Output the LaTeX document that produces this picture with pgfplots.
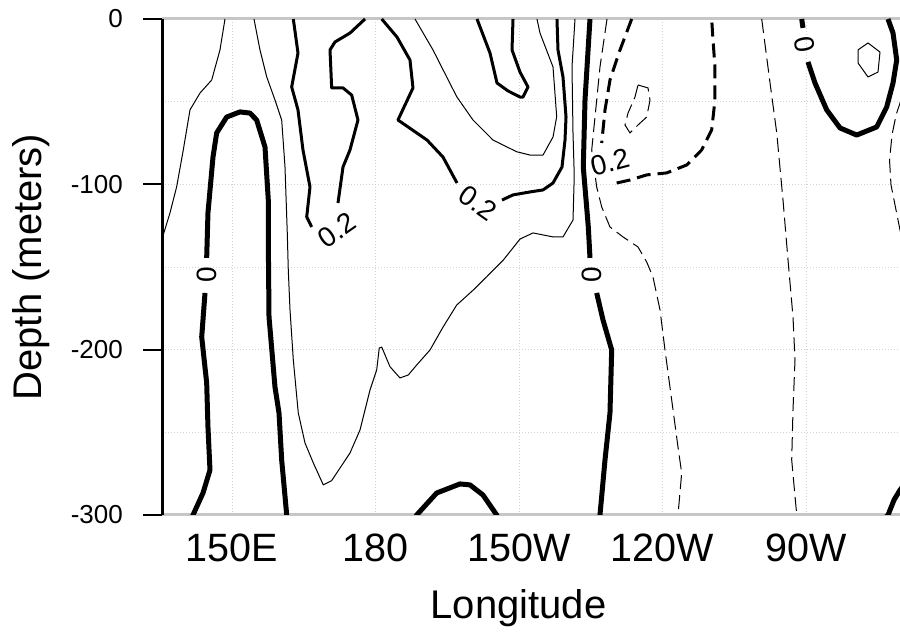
\documentclass[border=0pt]{standalone}
\usepackage{fontspec}
\setmainfont{Liberation Sans}
\usepackage{pgfplots}
\pgfplotsset{compat=1.18}
\begin{document}
\begin{tikzpicture}[
  czero/.style={black, line width=5bp, line join=round},
  cpos/.style={black, line width=3bp, line join=round},
  cthin/.style={black, line width=1bp, line join=round},
  cnthin/.style={black, line width=1bp, dash pattern=on 14bp off 6bp},
  cnmed/.style={black, line width=3bp, dash pattern=on 14bp off 7bp},
  clab/.style={font=\fontsize{28bp}{28bp}\selectfont, inner sep=0pt}]
\useasboundingbox (0,0) rectangle (900bp,633bp);
\begin{axis}[
  at={(162bp,118bp)}, anchor=south west,
  scale only axis, width=738bp, height=496bp,
  xmin=135.37, xmax=289.65, ymin=-300, ymax=0,
  axis x line*=box, axis y line*=left, separate axis lines,
  x axis line style={draw=gray!45, line width=3bp},
  y axis line style={draw=black, line width=3bp},
  xtick={150,180,210,240,270},
  xticklabels={150E,180,150W,120W,90W},
  ytick={0,-100,-200,-300},
  yticklabels={0,-100,-200,-300},
  minor ytick={-50,-150,-250},
  grid=both,
  grid style={gray!35, line width=0.8bp, dash pattern=on 1bp off 2bp},
  minor grid style={gray!35, line width=0.8bp, dash pattern=on 1bp off 2bp},
  tick align=outside,
  major tick length=19bp, minor tick length=0pt,
  xtick style={draw=none},
  ytick style={black, line width=2bp},
  xticklabel style={font=\fontsize{39.5bp}{40bp}\selectfont, inner sep=0pt, anchor=north},
  yticklabel style={font=\fontsize{26bp}{27bp}\selectfont, inner sep=0pt, anchor=east, xshift=-20bp},
  xlabel={Longitude}, ylabel={Depth (meters)},
  every axis x label/.style={at={(axis description cs:0.483,-0.2077)}, anchor=base, font=\fontsize{40bp}{40bp}\selectfont},
  every axis y label/.style={at={(axis description cs:-0.1775,0.5)}, rotate=90, anchor=center, font=\fontsize{40bp}{40bp}\selectfont},
  no markers,
]
% thin contours (positive, small)
\addplot[cthin] coordinates {(148.54,0) (147.49,-18.7) (145.76,-36.9) (143.31,-44.8) (141.22,-55.0) (139.82,-79.2) (138.44,-101.4) (137.04,-117.3) (135.51,-131.7) (134.53,-139.7)};
\addplot[cthin] coordinates {(154.60,0) (155.85,-18.7) (157.25,-34.9) (158.99,-49.0) (160.39,-61.1) (161.08,-89.3) (161.56,-129.4) (161.77,-151.8) (162.13,-176.0) (162.82,-206.2) (163.86,-238.3) (165.26,-256.4) (167.00,-268.5) (169.09,-281.8) (170.84,-279.2) (174.67,-262.5) (176.76,-248.6) (178.85,-224.4) (180.25,-212.3) (180.79,-199.0) (181.30,-198.4) (183.03,-210.3) (185.12,-217.1) (186.86,-215.3) (188.61,-209.3) (191.39,-200.2) (194.17,-186.1) (196.98,-173.0) (200.45,-163.9) (203.25,-155.9) (206.72,-145.8) (210.21,-133.1) (212.93,-129.4) (217.11,-131.8) (219.20,-131.8) (221.29,-121.6) (221.50,-100.4) (221.50,-89.5) (221.29,-68.9) (221.08,-29.0) (221.71,0)};
\addplot[cthin] coordinates {(188.26,0) (192.02,-18.7) (196.98,-47.0) (200.38,-61.1) (204.56,-73.2) (209.52,-80.3) (212.30,-82.3) (215.02,-82.3) (217.11,-71.4) (217.88,-59.1) (217.11,-29.0) (214.39,-8.5) (213.76,0)};
\addplot[cthin] coordinates {(282.96,-14.5) (285.47,-20.0) (285.05,-32.1) (282.96,-35.1) (280.87,-26.6) (280.87,-18.7) (282.96,-14.5)};
% 0.2 contours
\addplot[cpos] coordinates {(181.30,0) (184.49,-10.9) (187.21,-24.8) (187.84,-41.7) (184.70,-61.1) (190.77,-73.2) (194.11,-83.5) (197.04,-99.2)};
\addplot[cpos] coordinates {(206.45,-109.5) (208.75,-106.4) (212.30,-104.6) (215.02,-103.4) (217.11,-99.2) (218.99,-89.5) (219.62,-73.2) (219.83,-59.3) (219.20,-35.1) (218.15,-18.7) (217.94,0)};
\addplot[cpos] coordinates {(201.22,0) (203.94,-20.6) (205.40,-38.7) (207.70,-43.5) (210.21,-47.2) (210.83,-47.2) (211.88,-41.1) (210.21,-32.1) (208.54,-18.7) (208.75,0)};
\addplot[cpos] coordinates {(177.81,0) (174.67,-8.5) (171.53,-13.9) (170.49,-18.7) (170.84,-41.7) (173.21,-41.7) (175.02,-46.0) (176.34,-61.1) (174.67,-79.2) (173.21,-89.5) (172.16,-111.3)};
\addplot[cpos] coordinates {(166.66,-125.8) (165.62,-119.7) (166.31,-101.6) (164.84,-79.2) (163.80,-55.0) (162.48,-41.1) (163.80,-20.6) (162.82,0)};
% zero contours
\addplot[czero] coordinates {(161.44,-300) (160.39,-266.7) (159.83,-238.3) (158.99,-222.6) (157.74,-180.2) (157.63,-145.8) (157.59,-109.5) (156.90,-77.4) (155.16,-61.1) (153.76,-56.9) (151.67,-56.2) (148.89,-59.3) (146.80,-68.9) (146.03,-83.5) (144.98,-117.3) (144.71,-144.5)};
\addplot[czero] coordinates {(144.36,-165.7) (143.67,-192.3) (144.71,-220.1) (144.98,-246.8) (145.40,-272.8) (143.94,-286.7) (141.85,-300) (141.4,-303)};
\addplot[czero] coordinates {(188.2,-303) (188.61,-300) (192.79,-286.7) (197.67,-281.2) (199.76,-281.8) (202.47,-287.9) (205.34,-300) (205.8,-303)};
\addplot[czero] coordinates {(224.84,0) (223.80,-49.0) (223.44,-89.5) (224.49,-125.8) (224.84,-144.5)};
\addplot[czero] coordinates {(226.24,-165.7) (227.56,-182.0) (229.38,-200.2) (229.02,-238.3) (227.98,-266.7) (226.93,-300) (226.8,-303)};
\addplot[czero] coordinates {(269.10,0) (269.37,-5.4)};
\addplot[czero] coordinates {(270.42,-26.0) (271.88,-38.7) (274.33,-55.0) (277.11,-65.9) (280.60,-70.2) (284.78,-65.3) (286.87,-53.2) (288.19,-38.7) (288.96,-24.8) (288.19,-8.5) (287.14,0)};
\addplot[czero] coordinates {(286.3,-303) (286.73,-301.2) (287.15,-300) (288.40,-290.9) (289.65,-284.9) (290.49,-281.8)};
% negative contours
\addplot[cnmed] coordinates {(233.56,0) (231.12,-18.7) (229.02,-36.9) (227.98,-55.0) (227.29,-75.0)};
\addplot[cnmed] coordinates {(230.42,-99.2) (233.20,-97.4) (236.70,-94.3) (240.88,-93.1) (245.06,-88.3) (248.19,-79.2) (250.28,-67.1) (250.97,-49.0) (250.97,-29.0) (250.56,-12.7) (250.28,0)};
\addplot[cnthin] coordinates {(234.88,-39.9) (236.97,-41.7) (237.39,-49.0) (236.70,-59.3) (234.88,-64.1) (233.20,-68.9) (232.16,-64.1) (232.79,-56.9) (234.25,-47.2) (234.88,-39.9)};
\addplot[cnthin] coordinates {(228.40,0) (226.93,-29.0) (225.89,-59.3) (225.20,-79.2) (226.24,-101.6) (227.29,-113.7) (229.02,-125.8) (231.74,-131.8) (234.88,-137.9) (236.70,-147.0) (238.01,-156.0) (239.48,-176.0) (240.52,-200.2) (241.92,-230.4) (243.24,-258.9) (244.01,-274.6) (243.24,-300)};
\addplot[cnthin] coordinates {(260.74,0) (262.48,-38.7) (263.88,-68.9) (265.19,-109.5) (266.24,-145.8) (267.28,-180.2) (267.70,-206.2) (267.28,-236.5) (267.01,-266.7) (268.06,-300)};
\addplot[cnthin] coordinates {(289.86,-49.0) (288.82,-58.1) (287.98,-70.2) (287.46,-85.3) (287.77,-100.4) (288.61,-112.5) (289.65,-127.6) (290.07,-133.7)};
% contour labels
\node[clab, rotate=35] at (axis cs:171.89,-127.6) {0.2};
\node[clab, rotate=-35] at (axis cs:201.43,-111.3) {0.2};
\node[clab, rotate=15] at (axis cs:229.02,-86.5) {0.2};
\node[clab, rotate=90] at (axis cs:144.77,-154.8) {0};
\node[clab, rotate=90] at (axis cs:225.26,-154.8) {0};
\node[clab, rotate=100] at (axis cs:269.79,-15.7) {0};
\end{axis}
\end{tikzpicture}
\end{document}
